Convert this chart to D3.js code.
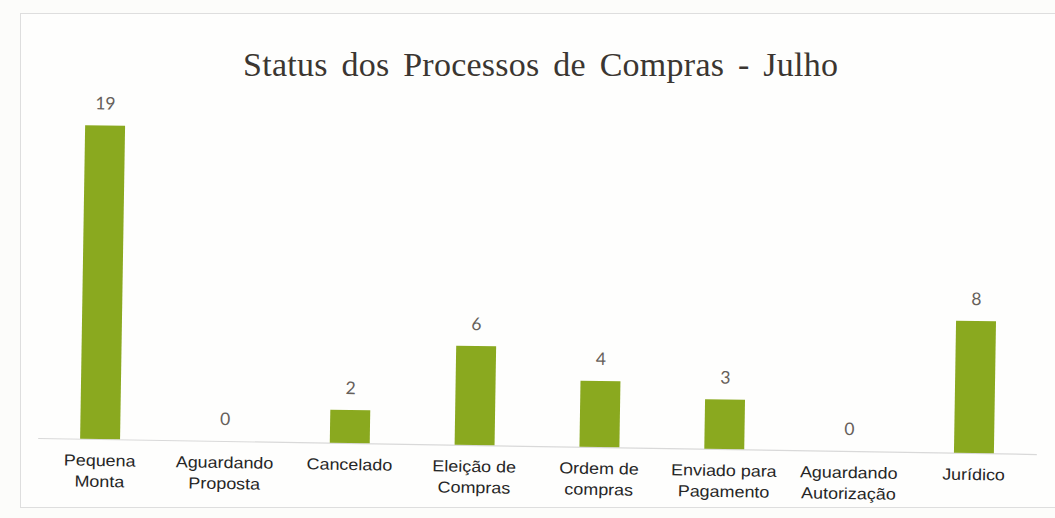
<!DOCTYPE html>
<html>
<head>
<meta charset="utf-8">
<script src="https://cdn.jsdelivr.net/npm/d3@7"></script>
<style>
  html, body { margin: 0; padding: 0; background: #fcfcfa; }
  svg { display: block; }
</style>
</head>
<body>
<svg id="chart" width="1055" height="518"></svg>
<script>
const categories = [
  ["Pequena", "Monta"],
  ["Aguardando", "Proposta"],
  ["Cancelado"],
  ["Eleição de", "Compras"],
  ["Ordem de", "compras"],
  ["Enviado para", "Pagamento"],
  ["Aguardando", "Autorização"],
  ["Jurídico"]
];
const values = [19, 0, 2, 6, 4, 3, 0, 8];
const titleText = "Status dos Processos de Compras - Julho";

const W = 1055, H = 518;
const svg = d3.select("#chart");

svg.append("rect").attr("x", 0).attr("y", 0).attr("width", W).attr("height", H).attr("fill", "#fcfcfa");
// chart frame
svg.append("rect").attr("x", 20.5).attr("y", 13.5).attr("width", 1045).attr("height", 494)
  .attr("fill", "#fefefd").attr("stroke", "#dedede").attr("stroke-width", 1);

const baseY = 446;
const keys = categories.map((c, i) => i);
const x = d3.scaleBand().domain(keys).range([37.6, 1036.4]).paddingInner(0.68).paddingOuter(0.34);
const y = d3.scaleLinear().domain([0, 20]).range([baseY, baseY - 330]);

// title
svg.append("text")
  .attr("x", 540.5).attr("y", 76)
  .attr("text-anchor", "middle")
  .attr("font-family", "'Liberation Serif', 'Times New Roman', serif")
  .attr("font-size", 34)
  .attr("fill", "#3b3631")
  .style("word-spacing", "5px")
  .attr("textLength", 595)
  .attr("lengthAdjust", "spacing")
  .text(titleText);

// plot group, slightly tilted like the scanned original
const plot = svg.append("g").attr("transform", `rotate(0.92, 537, ${baseY})`);

// axis line
const axis = d3.axisBottom(x).tickSize(0).tickFormat("");
plot.append("g").attr("transform", `translate(0,${baseY})`).call(axis)
  .call(g => g.select(".domain").attr("stroke", "#d9d9d9").attr("stroke-width", 1.2));

// bars
plot.selectAll("rect.bar").data(values).join("rect")
  .attr("class", "bar")
  .attr("x", (d, i) => x(i))
  .attr("width", x.bandwidth())
  .attr("y", d => y(d))
  .attr("height", d => baseY - y(d))
  .attr("fill", "#8aa91f");

// value labels
plot.selectAll("text.val").data(values).join("text")
  .attr("class", "val")
  .attr("x", (d, i) => x(i) + x.bandwidth() / 2)
  .attr("y", d => y(d) - 16)
  .attr("text-anchor", "middle")
  .attr("font-family", "Lato, 'Open Sans', sans-serif")
  .attr("font-size", 17.5)
  .attr("fill", "#66605a")
  .text(d => d);

// category labels
const cat = plot.selectAll("g.cat").data(categories).join("g")
  .attr("class", "cat")
  .attr("transform", (d, i) => `translate(${x(i) + x.bandwidth() / 2},${baseY + 27})`);
const ct = cat.append("text")
  .attr("transform", "scale(1.12,1)")
  .attr("text-anchor", "middle")
  .attr("font-family", "'Liberation Sans', Arial, sans-serif")
  .attr("font-size", 16)
  .attr("fill", "#262626");
ct.selectAll("tspan").data(d => d).join("tspan")
  .attr("x", 0)
  .attr("y", (d, j) => j * 21)
  .text(d => d);
</script>
</body>
</html>
